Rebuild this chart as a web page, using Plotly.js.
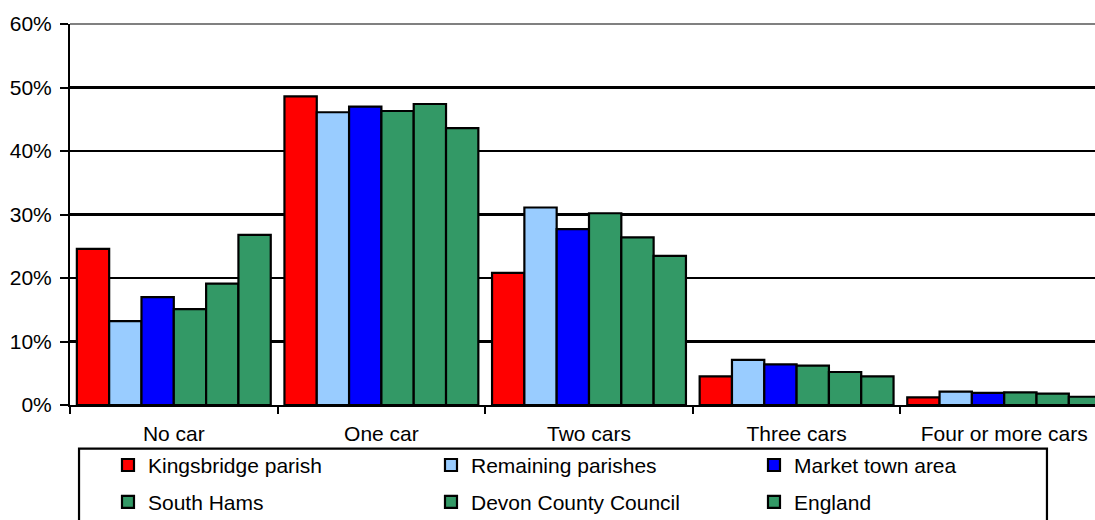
<!DOCTYPE html>
<html>
<head>
<meta charset="utf-8">
<script src="https://cdn.plot.ly/plotly-3.0.1.min.js"></script>
<style>
  html, body { margin: 0; padding: 0; overflow: hidden; background: #fff; }
  #chart { width: 1110px; height: 520px; }
</style>
</head>
<body>
<div id="chart"></div>
<script>
// households by number of cars (% of households)
const categories = ['No car', 'One car', 'Two cars', 'Three cars', 'Four or more cars'];
const seriesNames = ['Kingsbridge parish', 'Remaining parishes', 'Market town area',
                     'South Hams', 'Devon County Council', 'England'];
const kingsbridge = [24.6, 48.6, 20.8, 4.5, 1.2];
const remaining   = [13.2, 46.1, 31.1, 7.1, 2.1];
const marketTown  = [17.0, 47.0, 27.7, 6.4, 1.9];
const southHams   = [15.1, 46.3, 30.2, 6.2, 2.0];
const devon       = [19.1, 47.4, 26.4, 5.2, 1.8];
const england     = [26.8, 43.6, 23.5, 4.5, 1.3];
const colors = ['#ff0000', '#99ccff', '#0000ff', '#339966', '#339966', '#339966'];

const allValues = [kingsbridge, remaining, marketTown, southHams, devon, england];
const font = { family: 'Liberation Sans, Arial, sans-serif', size: 21, color: '#000' };

const traces = allValues.map((vals, i) => ({
    type: 'bar',
    x: categories,
    y: vals,
    name: seriesNames[i],
    legend: i < 3 ? 'legend' : 'legend2',
    marker: { color: colors[i], line: { color: '#000', width: 2.2 } },
    hoverinfo: 'skip'
}));

const legendBase = {
    orientation: 'h',
    xref: 'paper', yref: 'container',
    x: 0.0366, xanchor: 'left', yanchor: 'top',
    entrywidth: 278, entrywidthmode: 'pixels',
    font: font,
    bgcolor: 'rgba(0,0,0,0)',
    borderwidth: 0
};

const layout = {
    width: 1110,
    height: 520,
    margin: { l: 70, r: 2, t: 24, b: 115 },
    paper_bgcolor: '#fff',
    plot_bgcolor: '#fff',
    font: font,
    barmode: 'group',
    bargap: 0.066,
    bargroupgap: 0,
    xaxis: {
        type: 'category',
        showline: true, linecolor: '#000', linewidth: 2,
        ticks: 'outside', tickson: 'boundaries', ticklen: 7, tickwidth: 2, tickcolor: '#000',
        ticklabelstandoff: 9,
        showgrid: false, zeroline: false
    },
    yaxis: {
        range: [0, 60], dtick: 10, ticksuffix: '%',
        showline: true, linecolor: '#000', linewidth: 2,
        ticks: 'outside', ticklen: 8, tickwidth: 2, tickcolor: '#000',
        ticklabelstandoff: 4,
        showgrid: true, gridcolor: '#000', gridwidth: 2.2,
        zeroline: false
    },
    legend: Object.assign({}, legendBase, { y: 0.1445 }),
    legend2: Object.assign({}, legendBase, { y: 0.0735 }),
    shapes: [
        // grey top edge of plot area
        { type: 'line', xref: 'paper', yref: 'paper', x0: 0, x1: 1, y0: 1, y1: 1,
          line: { color: '#808080', width: 2 } },
        // legend frame
        { type: 'rect', xref: 'paper', yref: 'paper', x0: 0.0087, x1: 0.9412, y0: -0.1143, y1: -0.35,
          line: { color: '#000', width: 2.2 }, fillcolor: 'rgba(0,0,0,0)' }
    ],
    showlegend: true
};

Plotly.newPlot('chart', traces, layout, { displayModeBar: false, staticPlot: true });
</script>
</body>
</html>
